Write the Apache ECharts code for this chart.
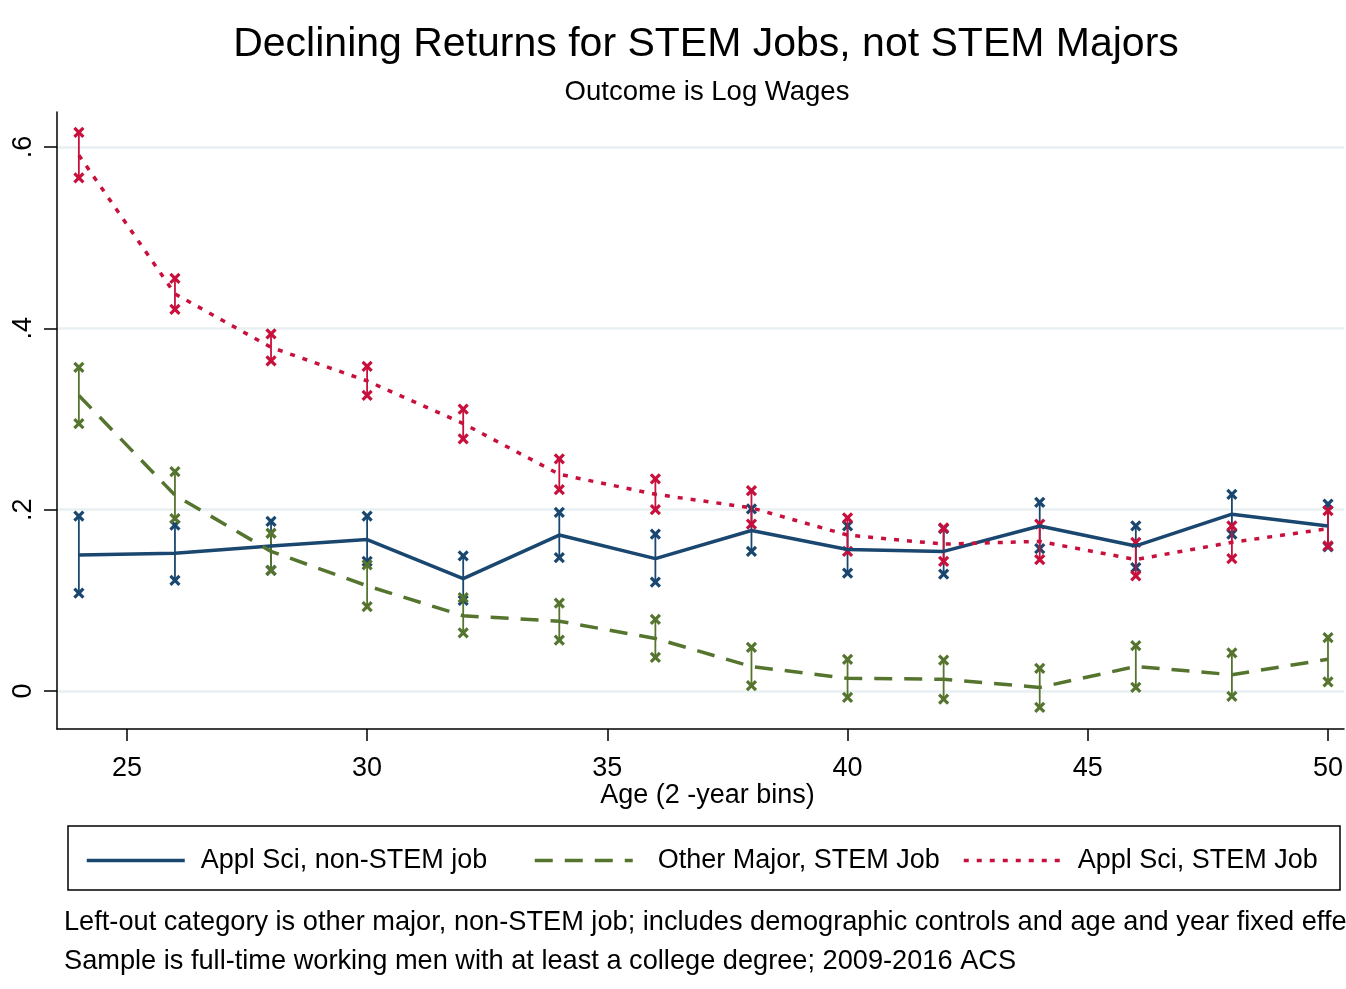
<!DOCTYPE html>
<html><head><meta charset="utf-8">
<script src="https://cdn.jsdelivr.net/npm/echarts@6/dist/echarts.min.js"></script>
<style>html,body{margin:0;padding:0;background:#fff}#c{width:1346px;height:989px}</style>
</head><body><div id="c"></div>
<script>
// ---- data ----
const ages = [24, 26, 28, 30, 32, 34, 36, 38, 40, 42, 44, 46, 48, 50];

const applNonStemEst = [0.150, 0.152, 0.160, 0.167, 0.124, 0.172, 0.146, 0.177, 0.156, 0.154, 0.182, 0.160, 0.195, 0.182];
const applNonStemLo  = [0.108, 0.122, 0.133, 0.143, 0.100, 0.147, 0.120, 0.154, 0.130, 0.129, 0.157, 0.136, 0.173, 0.159];
const applNonStemHi  = [0.193, 0.183, 0.187, 0.193, 0.149, 0.197, 0.173, 0.201, 0.182, 0.179, 0.208, 0.182, 0.217, 0.206];

const otherStemEst = [0.326, 0.216, 0.154, 0.116, 0.083, 0.077, 0.058, 0.027, 0.014, 0.013, 0.004, 0.027, 0.018, 0.035];
const otherStemLo  = [0.295, 0.190, 0.133, 0.093, 0.064, 0.056, 0.037, 0.006, -0.007, -0.009, -0.018, 0.004, -0.006, 0.010];
const otherStemHi  = [0.357, 0.242, 0.174, 0.139, 0.103, 0.097, 0.079, 0.048, 0.035, 0.034, 0.025, 0.050, 0.042, 0.059];

const applStemEst = [0.591, 0.438, 0.379, 0.342, 0.295, 0.239, 0.217, 0.202, 0.172, 0.162, 0.165, 0.145, 0.164, 0.179];
const applStemLo  = [0.566, 0.421, 0.364, 0.326, 0.278, 0.222, 0.200, 0.184, 0.154, 0.143, 0.145, 0.127, 0.146, 0.160];
const applStemHi  = [0.616, 0.455, 0.394, 0.358, 0.311, 0.256, 0.234, 0.221, 0.191, 0.180, 0.184, 0.164, 0.182, 0.199];

const seriesNames = ['Appl Sci, non-STEM job', 'Other Major, STEM Job', 'Appl Sci, STEM Job'];
const xTicks = [25, 30, 35, 40, 45, 50];
const yTicks = [0, 0.2, 0.4, 0.6];
const yTickLabels = ['0', '.2', '.4', '.6'];

const titleText = 'Declining Returns for STEM Jobs, not STEM Majors';
const subtitleText = 'Outcome is Log Wages';
const xAxisTitle = 'Age (2 -year bins)';
const noteLines = [
  'Left-out category is other major, non-STEM job; includes demographic controls and age and year fixed effects',
  'Sample is full-time working men with at least a college degree; 2009-2016 ACS'
];

// ---- styling ----
const FONT = 'Liberation Sans, Arial, sans-serif';
const C_BLUE = '#1a476f', C_GREEN = '#55752f', C_RED = '#c8103c';

const pairs = (est) => ages.map((a, i) => [a, est[i]]);
const ranges = (lo, hi) => ages.map((a, i) => [a, lo[i], hi[i]]);

function ciRender(color) {
  return function (params, api) {
    const x = api.value(0), lo = api.value(1), hi = api.value(2);
    const p1 = api.coord([x, lo]), p2 = api.coord([x, hi]);
    const s = 4.5;
    const cross = p => [
      { type: 'line', shape: { x1: p[0] - s, y1: p[1] - s, x2: p[0] + s, y2: p[1] + s }, style: { stroke: color, lineWidth: 3.2 } },
      { type: 'line', shape: { x1: p[0] - s, y1: p[1] + s, x2: p[0] + s, y2: p[1] - s }, style: { stroke: color, lineWidth: 3.2 } }
    ];
    return {
      type: 'group',
      children: [
        { type: 'line', shape: { x1: p1[0], y1: p1[1], x2: p2[0], y2: p2[1] }, style: { stroke: color, lineWidth: 1.8 } }
      ].concat(cross(p1), cross(p2))
    };
  };
}

const chart = echarts.init(document.getElementById('c'), null, { renderer: 'canvas' });
const legendBase = {
  orient: 'horizontal', top: 847, padding: 0, itemWidth: 98, itemHeight: 14,
  selectedMode: false,
  itemStyle: { opacity: 0 },
  lineStyle: { width: 3.5 },
  textStyle: { fontSize: 27, color: '#000', fontFamily: FONT, padding: [0, 0, 0, 11] }
};

chart.setOption({
  backgroundColor: '#fff',
  animation: false,
  grid: { left: 57, right: 0, top: 112, bottom: 260, containLabel: false },
  xAxis: {
    type: 'value', min: 23.545, max: 50.333,
    axisLine: { show: true, onZero: false, lineStyle: { color: '#000', width: 1.5 } },
    axisTick: { show: true, length: 12, customValues: xTicks, lineStyle: { color: '#000', width: 1.5 } },
    axisLabel: { customValues: xTicks, fontSize: 27, color: '#000', fontFamily: FONT, margin: 26 },
    splitLine: { show: false },
    name: xAxisTitle, nameLocation: 'middle', nameGap: 53, nameMoveOverlap: false,
    nameTextStyle: { fontSize: 27, color: '#000', fontFamily: FONT, padding: [0, 0, 0, 14] }
  },
  yAxis: {
    type: 'value', min: -0.0419, max: 0.6386,
    axisLine: { show: true, onZero: false, lineStyle: { color: '#000', width: 1.5 } },
    axisTick: { show: true, length: 13, customValues: yTicks, lineStyle: { color: '#000', width: 1.5 } },
    axisLabel: {
      customValues: yTicks, rotate: 90, fontSize: 27, color: '#000', fontFamily: FONT, margin: 20,
      formatter: v => yTickLabels[Math.round(v * 5)]
    },
    splitLine: { show: true, lineStyle: { color: '#e8f0f2', width: 2.5 } }
  },
  legend: [
    Object.assign({}, legendBase, { data: [seriesNames[0]], left: 85 }),
    Object.assign({}, legendBase, { data: [seriesNames[1]], left: 533,
      textStyle: Object.assign({}, legendBase.textStyle, { padding: [0, 0, 0, 20] }) }),
    Object.assign({}, legendBase, { data: [seriesNames[2]], left: 962 })
  ],
  graphic: [
    { type: 'text', silent: true, style: { text: titleText, x: 706, y: 45, align: 'center', verticalAlign: 'middle', fontSize: 41, fontFamily: FONT, fill: '#000' } },
    { type: 'text', silent: true, style: { text: subtitleText, x: 707, y: 92, align: 'center', verticalAlign: 'middle', fontSize: 27.5, fontFamily: FONT, fill: '#000' } },
    { type: 'rect', silent: true, shape: { x: 68, y: 826, width: 1272, height: 64 }, style: { fill: 'none', stroke: '#000', lineWidth: 1.5 } },
    { type: 'text', silent: true, style: { text: noteLines[0], x: 64, y: 923, align: 'left', verticalAlign: 'middle', fontSize: 27.2, fontFamily: FONT, fill: '#000' } },
    { type: 'text', silent: true, style: { text: noteLines[1], x: 64, y: 962, align: 'left', verticalAlign: 'middle', fontSize: 27.2, fontFamily: FONT, fill: '#000' } }
  ],
  series: [
    { type: 'custom', name: seriesNames[0] + ' CI', renderItem: ciRender(C_BLUE), data: ranges(applNonStemLo, applNonStemHi), encode: { x: 0, y: [1, 2] }, z: 2 },
    { type: 'line', name: seriesNames[0], data: pairs(applNonStemEst), symbol: 'none', color: C_BLUE,
      lineStyle: { color: C_BLUE, width: 3.5, type: 'solid' }, z: 2 },
    { type: 'custom', name: seriesNames[1] + ' CI', renderItem: ciRender(C_GREEN), data: ranges(otherStemLo, otherStemHi), encode: { x: 0, y: [1, 2] }, z: 2 },
    { type: 'line', name: seriesNames[1], data: pairs(otherStemEst), symbol: 'none', color: C_GREEN,
      lineStyle: { color: C_GREEN, width: 3.5, type: [18, 12], cap: 'butt' }, z: 2 },
    { type: 'custom', name: seriesNames[2] + ' CI', renderItem: ciRender(C_RED), data: ranges(applStemLo, applStemHi), encode: { x: 0, y: [1, 2] }, z: 2 },
    { type: 'line', name: seriesNames[2], data: pairs(applStemEst), symbol: 'none', color: C_RED,
      lineStyle: { color: C_RED, width: 3.5, type: [5, 8], cap: 'butt' }, z: 2 }
  ]
});
</script></body></html>
